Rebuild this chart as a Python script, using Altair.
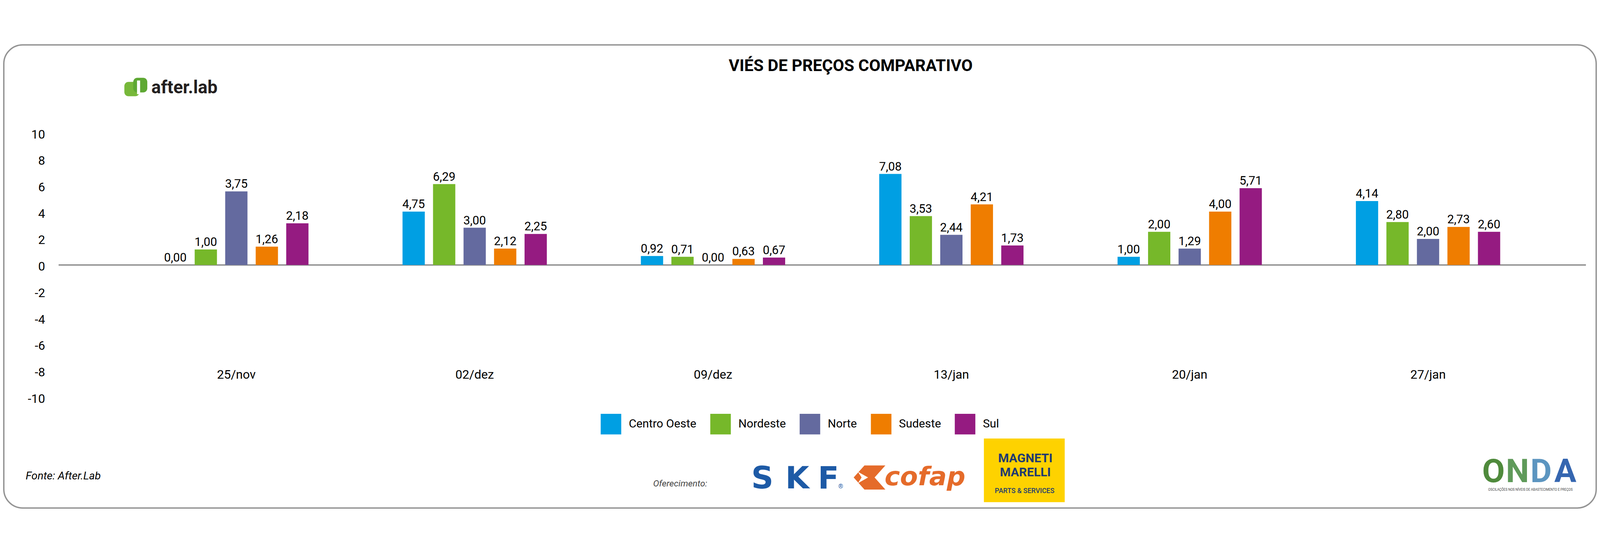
import altair as alt
import pandas as pd

# ---------------- data ----------------
dates = ["25/nov", "02/dez", "09/dez", "13/jan", "20/jan", "27/jan"]
regions = ["Centro Oeste", "Nordeste", "Norte", "Sudeste", "Sul"]
colors = ["#009FE3", "#76B82A", "#646A9F", "#EF7D00", "#951B81"]

# bar heights as drawn in the picture
centro_oeste = [0.00, 4.04, 0.68, 6.89, 0.62, 4.84]
nordeste = [1.17, 6.12, 0.62, 3.70, 2.51, 3.25]
norte = [5.57, 2.82, 0.00, 2.28, 1.24, 1.97]
sudeste = [1.39, 1.24, 0.46, 4.59, 4.04, 2.88]
sul = [3.15, 2.35, 0.56, 1.48, 5.81, 2.51]

# data labels as printed above the bars
lbl_centro_oeste = ["0,00", "4,75", "0,92", "7,08", "1,00", "4,14"]
lbl_nordeste = ["1,00", "6,29", "0,71", "3,53", "2,00", "2,80"]
lbl_norte = ["3,75", "3,00", "0,00", "2,44", "1,29", "2,00"]
lbl_sudeste = ["1,26", "2,12", "0,63", "4,21", "4,00", "2,73"]
lbl_sul = ["2,18", "2,25", "0,67", "1,73", "5,71", "2,60"]

y_ticks = [-10, -8, -6, -4, -2, 0, 2, 4, 6, 8, 10]

title_text = "VIÉS DE PREÇOS COMPARATIVO"
source_text = "Fonte: After.Lab"
offer_text = "Oferecimento:"

# ---------------- build table ----------------
bar_series = [centro_oeste, nordeste, norte, sudeste, sul]
label_series = [lbl_centro_oeste, lbl_nordeste, lbl_norte, lbl_sudeste, lbl_sul]
rows = []
for reg, vals, labs in zip(regions, bar_series, label_series):
    for d, v, l in zip(dates, vals, labs):
        rows.append({"date": d, "region": reg, "value": v, "label": l})
df = pd.DataFrame(rows)
one = pd.DataFrame({"k": [0]})

FONT = "Roboto"

x_enc = alt.X(
    "date:N",
    sort=dates,
    scale=alt.Scale(domain=dates, range=[171, 4347], paddingInner=0.36, paddingOuter=0.18),
    axis=alt.Axis(
        title=None, orient="bottom", domain=False, ticks=False, grid=False,
        labelAngle=0, labelFont=FONT, labelFontSize=36, labelColor="#000000",
        labelPadding=0, labelBaseline="middle", offset=-65,
    ),
)
xo_enc = alt.XOffset(
    "region:N", sort=regions,
    scale=alt.Scale(domain=regions, paddingInner=0.27, paddingOuter=0.135),
)
y_enc = alt.Y(
    "value:Q",
    scale=alt.Scale(domain=[-10, 10], nice=False, zero=False),
    axis=alt.Axis(
        title=None, values=y_ticks, domain=False, ticks=False, grid=False,
        labelFont=FONT, labelFontSize=36, labelColor="#000000",
        labelPadding=40, labelOffset=5, labelExpr="'' + datum.value",
    ),
)
color_enc = alt.Color(
    "region:N", sort=regions,
    scale=alt.Scale(domain=regions, range=colors),
    legend=alt.Legend(
        title=None, orient="none", legendX=1583, legendY=821, direction="horizontal",
        symbolType="square", symbolSize=3600, symbolStrokeWidth=0, symbolOpacity=1,
        labelFont=FONT, labelFontSize=34, labelColor="#000000", labelOffset=22,
        columnPadding=40, labelLimit=0, padding=0,
    ),
)

bars = alt.Chart(df).mark_bar(opacity=1).encode(
    x=x_enc, xOffset=xo_enc, y=y_enc, color=color_enc
)
labels = alt.Chart(df).mark_text(
    dy=-10, baseline="alphabetic", align="center", fontSize=35, font=FONT, color="#000000"
).encode(x=x_enc, xOffset=xo_enc, y=y_enc, text="label:N")

zero_rule = alt.Chart(one).mark_rule(color="#8e8e8e", strokeWidth=4).encode(y=alt.datum(0))


def txt(s, x, y, size, color="#000000", weight="normal", style="normal",
        align="left", font=FONT):
    return alt.Chart(one).mark_text(
        text=s, fontSize=size, color=color, fontWeight=weight, fontStyle=style,
        align=align, baseline="alphabetic", font=font,
    ).encode(x=alt.value(x), y=alt.value(y))


def box(x, x2, y, y2, fill, radius=0):
    return alt.Chart(one).mark_rect(fill=fill, cornerRadius=radius, opacity=1).encode(
        x=alt.value(x), x2=alt.value(x2), y=alt.value(y), y2=alt.value(y2)
    )


def shape(path, x, y, size, color):
    return alt.Chart(one).mark_point(
        shape=path, size=size, filled=True, fill=color, opacity=1, strokeWidth=0
    ).encode(x=alt.value(x), y=alt.value(y))


border = alt.Chart(one).mark_rect(
    filled=False, stroke="#939393", strokeWidth=4, cornerRadius=55
).encode(x=alt.value(-160), x2=alt.value(4490), y=alt.value(-257), y2=alt.value(1096))

title = txt(title_text, 2313, -181, 48, weight="bold", align="center")
source = txt(source_text, -96, 1013, 32, style="italic")
offer = txt(offer_text, 1736, 1033, 26, color="#444444", style="italic")

# after.lab logo
afterlab = [
    box(192, 236, -149, -107, "#77b83a", 12),
    box(218, 259, -161, -118, "#5ea833", 12),
    box(229, 238, -153, -113, "#ffffff", 0),
    txt("after.lab", 271, -116, 52, color="#231f20", weight="bold"),
]

# SKF logo
skf_blue = "#1d5aa6"
skf = [
    txt("S", 2055, 1039, 90, color=skf_blue, weight="bold", align="center", font="DejaVu Sans"),
    txt("K", 2157, 1039, 90, color=skf_blue, weight="bold", align="center", font="DejaVu Sans"),
    txt("F", 2248, 1039, 90, color=skf_blue, weight="bold", align="center", font="DejaVu Sans"),
    txt("®", 2284, 1039, 18, color=skf_blue, align="center"),
]

# cofap logo
cofap_orange = "#e56b2a"
cofap = [
    shape("M -0.32 -0.76 L 1 -0.76 L 0.32 0 L 1 0.76 L -0.32 0.76 L -1 0 Z", 2368, 1007, 8575, cofap_orange),
    shape("M -0.73 -0.36 L -0.09 0 L -0.73 0.36 L -0.5 0 Z", 2368, 1007, 8575, "#ffffff"),
    txt("cofap", 2412, 1030, 76, color=cofap_orange, weight="bold", style="italic", font="DejaVu Sans"),
]

# Magneti Marelli logo
mm_navy = "#1f3a70"
marelli = [
    box(2702, 2938, 893, 1079, "#fed200"),
    txt("MAGNETI", 2823, 962, 36, color=mm_navy, weight="bold", align="center"),
    txt("MARELLI", 2823, 1004, 36, color=mm_navy, weight="bold", align="center"),
    txt("PARTS & SERVICES", 2821, 1052, 20, color=mm_navy, weight=500, align="center"),
]

# ONDA logo
onda = [
    txt("O", 4190, 1020, 96, color="#4f8a3c", weight="bold", align="center"),
    txt("N", 4260, 1020, 96, color="#5f9a5a", weight="bold", align="center"),
    txt("D", 4329, 1020, 96, color="#5c95c0", weight="bold", align="center"),
    txt("A", 4400, 1020, 96, color="#3566b0", weight="bold", align="center"),
    txt("OSCILAÇÕES NOS NÍVEIS DE ABASTECIMENTO E PREÇOS", 4298, 1046, 9.5,
        color="#444444", align="center"),
]

chart = alt.layer(
    border, zero_rule, bars, labels, title, source, offer,
    *afterlab, *skf, *cofap, *marelli, *onda,
).properties(
    width=4460, height=772,
    autosize=alt.AutoSizeParams(type="none"),
    padding={"left": 162, "top": 282, "right": 32, "bottom": 326},
    background="#ffffff",
).configure_view(stroke=None)

chart.save("out.html", embed_options={"renderer": "svg", "actions": False})
